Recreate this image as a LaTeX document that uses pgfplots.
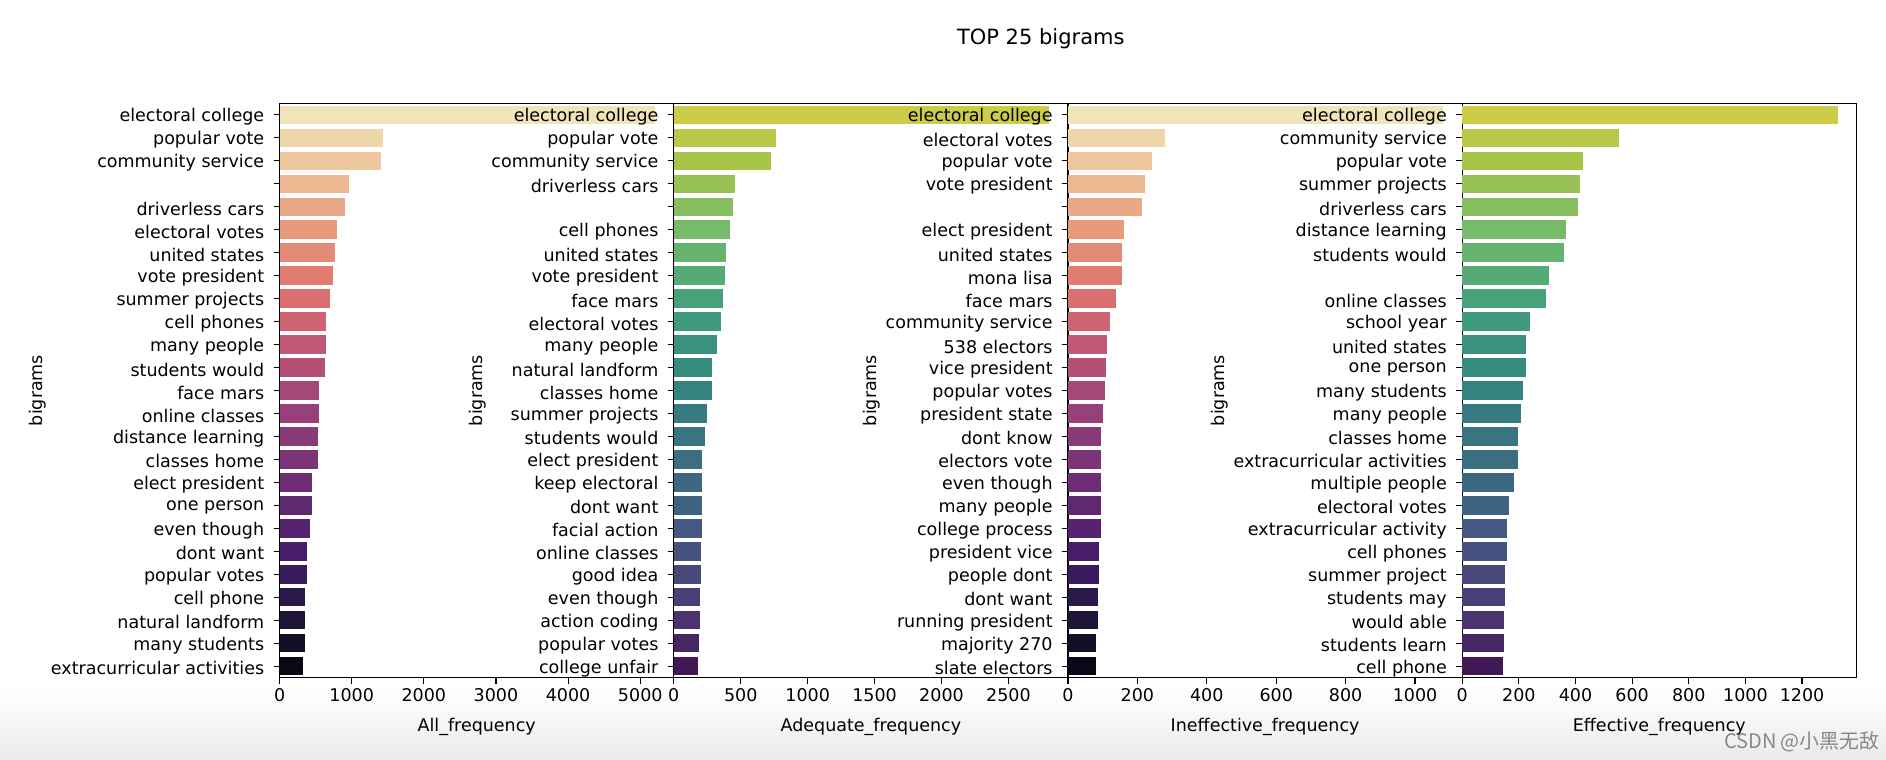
\documentclass[border=0pt]{standalone}
\usepackage{fontspec}
\setmainfont{DejaVu Sans}
\newfontfamily\cjk{Noto Sans CJK SC}
\usepackage{pgfplots}
\pgfplotsset{compat=1.18}
\pgfplotsset{
 colormap={magmaD}{rgb255=(1,1,4) rgb255=(28,21,55) rgb255=(68,28,105) rgb255=(106,43,117) rgb255=(144,61,121) rgb255=(187,82,118) rgb255=(222,114,111) rgb255=(232,157,125) rgb255=(238,201,157) rgb255=(242,242,200)},
 colormap={viridisD}{rgb255=(62,11,74) rgb255=(74,50,110) rgb255=(71,80,128) rgb255=(61,102,130) rgb255=(55,120,128) rgb255=(52,142,126) rgb255=(74,165,120) rgb255=(122,188,105) rgb255=(170,197,72) rgb255=(222,207,72)},
 r0/.style={color of colormap=961.5, fill=., draw=none},
 r1/.style={color of colormap=923.1, fill=., draw=none},
 r2/.style={color of colormap=884.6, fill=., draw=none},
 r3/.style={color of colormap=846.2, fill=., draw=none},
 r4/.style={color of colormap=807.7, fill=., draw=none},
 r5/.style={color of colormap=769.2, fill=., draw=none},
 r6/.style={color of colormap=730.8, fill=., draw=none},
 r7/.style={color of colormap=692.3, fill=., draw=none},
 r8/.style={color of colormap=653.8, fill=., draw=none},
 r9/.style={color of colormap=615.4, fill=., draw=none},
 r10/.style={color of colormap=576.9, fill=., draw=none},
 r11/.style={color of colormap=538.5, fill=., draw=none},
 r12/.style={color of colormap=500, fill=., draw=none},
 r13/.style={color of colormap=461.5, fill=., draw=none},
 r14/.style={color of colormap=423.1, fill=., draw=none},
 r15/.style={color of colormap=384.6, fill=., draw=none},
 r16/.style={color of colormap=346.2, fill=., draw=none},
 r17/.style={color of colormap=307.7, fill=., draw=none},
 r18/.style={color of colormap=269.2, fill=., draw=none},
 r19/.style={color of colormap=230.8, fill=., draw=none},
 r20/.style={color of colormap=192.3, fill=., draw=none},
 r21/.style={color of colormap=153.8, fill=., draw=none},
 r22/.style={color of colormap=115.4, fill=., draw=none},
 r23/.style={color of colormap=76.9, fill=., draw=none},
 r24/.style={color of colormap=38.5, fill=., draw=none},
 mypanel/.style={
  scale only axis, width=197.1pt, height=287.2pt,
  anchor=south west,
  xbar, bar width=0.8, bar shift=0pt,
  y dir=reverse, ymin=-0.5, ymax=24.5, ytick={0,...,24},
  xmin=0,
  tick align=outside, tick pos=left,
  axis line style={line width=0.6pt, black},
  major tick style={line width=0.6pt, black},
  major tick length=3pt,
  ylabel={bigrams},
  ylabel shift={-2.5pt},
  tick label style={font=\fontsize{8.75}{10}\selectfont, text=black},
  yticklabel style={inner sep=1.5pt, xshift=-3pt, yshift=-1pt},
  xticklabel style={inner sep=2pt},
  xlabel style={yshift=-3pt},
  label style={font=\fontsize{8.75}{10}\selectfont},
  /pgf/number format/assume math mode=true,
  /pgf/number format/1000 sep={},
  scaled x ticks=false,
 },
}
\begin{document}
\begin{tikzpicture}
\path[use as bounding box] (0,0) rectangle (943pt,380pt);
\shade[top color=white, bottom color=gray!16] (0,0) rectangle (943pt,36pt);
\node[font=\fontsize{10.5}{12}\selectfont] at (520.4pt,360.7pt) {TOP 25 bigrams};

% Panel 1: All_frequency
\begin{axis}[mypanel, at={(139.8pt,41.15pt)}, colormap name=magmaD,
  xmax=5465, xtick={0,1000,2000,3000,4000,5000}, xlabel={All\_frequency},
  yticklabels={electoral college,popular vote,community service,{},driverless cars,electoral votes,united states,vote president,summer projects,cell phones,many people,students would,face mars,online classes,distance learning,classes home,elect president,one person,even though,dont want,popular votes,cell phone,natural landform,many students,extracurricular activities}]
\addplot[r0] coordinates {(5205,0)};
\addplot[r1] coordinates {(1431,1)};
\addplot[r2] coordinates {(1401,2)};
\addplot[r3] coordinates {(958,3)};
\addplot[r4] coordinates {(910,4)};
\addplot[r5] coordinates {(790,5)};
\addplot[r6] coordinates {(766,6)};
\addplot[r7] coordinates {(743,7)};
\addplot[r8] coordinates {(695,8)};
\addplot[r9] coordinates {(641,9)};
\addplot[r10] coordinates {(640,10)};
\addplot[r11] coordinates {(623,11)};
\addplot[r12] coordinates {(546,12)};
\addplot[r13] coordinates {(545,13)};
\addplot[r14] coordinates {(528,14)};
\addplot[r15] coordinates {(527,15)};
\addplot[r16] coordinates {(450,16)};
\addplot[r17] coordinates {(449,17)};
\addplot[r18] coordinates {(425,18)};
\addplot[r19] coordinates {(378,19)};
\addplot[r20] coordinates {(377,20)};
\addplot[r21] coordinates {(354,21)};
\addplot[r22] coordinates {(353,22)};
\addplot[r23] coordinates {(352,23)};
\addplot[r24] coordinates {(329,24)};
\end{axis}

% Panel 2: Adequate_frequency
\begin{axis}[mypanel, at={(336.9pt,41.15pt)}, colormap name=viridisD,
  xmax=2945, xtick={0,500,1000,1500,2000,2500}, xlabel={Adequate\_frequency},
  yticklabels={electoral college,popular vote,community service,driverless cars,{},cell phones,united states,vote president,face mars,electoral votes,many people,natural landform,classes home,summer projects,students would,elect president,keep electoral,dont want,facial action,online classes,good idea,even though,action coding,popular votes,college unfair}]
\addplot[r0] coordinates {(2805,0)};
\addplot[r1] coordinates {(761,1)};
\addplot[r2] coordinates {(724,2)};
\addplot[r3] coordinates {(459,3)};
\addplot[r4] coordinates {(444,4)};
\addplot[r5] coordinates {(417,5)};
\addplot[r6] coordinates {(392,6)};
\addplot[r7] coordinates {(379,7)};
\addplot[r8] coordinates {(364,8)};
\addplot[r9] coordinates {(352,9)};
\addplot[r10] coordinates {(324,10)};
\addplot[r11] coordinates {(288,11)};
\addplot[r12] coordinates {(287,12)};
\addplot[r13] coordinates {(245,13)};
\addplot[r14] coordinates {(232,14)};
\addplot[r15] coordinates {(209,15)};
\addplot[r16] coordinates {(208,16)};
\addplot[r17] coordinates {(207,17)};
\addplot[r18] coordinates {(207,18)};
\addplot[r19] coordinates {(206,19)};
\addplot[r20] coordinates {(206,20)};
\addplot[r21] coordinates {(193,21)};
\addplot[r22] coordinates {(192,22)};
\addplot[r23] coordinates {(191,23)};
\addplot[r24] coordinates {(180,24)};
\end{axis}

% Panel 3: Ineffective_frequency
\begin{axis}[mypanel, at={(534.0pt,41.15pt)}, colormap name=magmaD,
  xmax=1136, xtick={0,200,400,600,800,1000}, xlabel={Ineffective\_frequency},
  yticklabels={electoral college,electoral votes,popular vote,vote president,{},elect president,united states,mona lisa,face mars,community service,538 electors,vice president,popular votes,president state,dont know,electors vote,even though,many people,college process,president vice,people dont,dont want,running president,majority 270,slate electors}]
\addplot[r0] coordinates {(1082,0)};
\addplot[r1] coordinates {(279,1)};
\addplot[r2] coordinates {(243,2)};
\addplot[r3] coordinates {(223,3)};
\addplot[r4] coordinates {(212,4)};
\addplot[r5] coordinates {(162,5)};
\addplot[r6] coordinates {(157,6)};
\addplot[r7] coordinates {(156,7)};
\addplot[r8] coordinates {(137,8)};
\addplot[r9] coordinates {(120,9)};
\addplot[r10] coordinates {(111,10)};
\addplot[r11] coordinates {(110,11)};
\addplot[r12] coordinates {(106,12)};
\addplot[r13] coordinates {(100,13)};
\addplot[r14] coordinates {(95,14)};
\addplot[r15] coordinates {(95,15)};
\addplot[r16] coordinates {(95,16)};
\addplot[r17] coordinates {(94,17)};
\addplot[r18] coordinates {(94,18)};
\addplot[r19] coordinates {(90,19)};
\addplot[r20] coordinates {(90,20)};
\addplot[r21] coordinates {(86,21)};
\addplot[r22] coordinates {(85,22)};
\addplot[r23] coordinates {(80,23)};
\addplot[r24] coordinates {(80,24)};
\end{axis}

% Panel 4: Effective_frequency
\begin{axis}[mypanel, at={(731.1pt,41.15pt)}, colormap name=viridisD,
  xmax=1392, xtick={0,200,400,600,800,1000,1200}, xlabel={Effective\_frequency},
  yticklabels={electoral college,community service,popular vote,summer projects,driverless cars,distance learning,students would,{},online classes,school year,united states,one person,many students,many people,classes home,extracurricular activities,multiple people,electoral votes,extracurricular activity,cell phones,summer project,students may,would able,students learn,cell phone}]
\addplot[r0] coordinates {(1326,0)};
\addplot[r1] coordinates {(552,1)};
\addplot[r2] coordinates {(428,2)};
\addplot[r3] coordinates {(415,3)};
\addplot[r4] coordinates {(409,4)};
\addplot[r5] coordinates {(365,5)};
\addplot[r6] coordinates {(359,6)};
\addplot[r7] coordinates {(307,7)};
\addplot[r8] coordinates {(297,8)};
\addplot[r9] coordinates {(240,9)};
\addplot[r10] coordinates {(227,10)};
\addplot[r11] coordinates {(226,11)};
\addplot[r12] coordinates {(216,12)};
\addplot[r13] coordinates {(208,13)};
\addplot[r14] coordinates {(197,14)};
\addplot[r15] coordinates {(196,15)};
\addplot[r16] coordinates {(184,16)};
\addplot[r17] coordinates {(165,17)};
\addplot[r18] coordinates {(158,18)};
\addplot[r19] coordinates {(157,19)};
\addplot[r20] coordinates {(152,20)};
\addplot[r21] coordinates {(151,21)};
\addplot[r22] coordinates {(146,22)};
\addplot[r23] coordinates {(146,23)};
\addplot[r24] coordinates {(145,24)};
\end{axis}

\node[font=\cjk\fontsize{10}{11}\selectfont, text={rgb,255:red,135;green,135;blue,135}] at (901pt,9pt) {CSDN @小黑无敌};
\end{tikzpicture}
\end{document}
